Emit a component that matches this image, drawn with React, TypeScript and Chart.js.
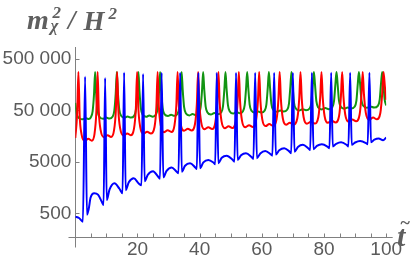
import { useEffect, useRef } from 'react';
import { Chart, registerables } from 'chart.js';

Chart.register(...registerables);

// ---- data ----
const blueT = [0, 1.2, 2.45, 3.15,
  3.75, 4.3, 4.9, 6.1, 7.3, 8.6, 9.1, 9.59,
  10.1, 11.0, 12.6, 14.2, 15.2, 15.7,
  16.2, 17.2, 18.8, 20.4, 21.3, 21.8,
  22.3, 23.3, 25.0, 26.6, 27.25, 27.77,
  28.3, 29.3, 31.0, 32.6, 33.2, 33.72,
  34.25, 35.3, 36.9, 38.6, 39.1, 39.6,
  40.1, 41.2, 42.8, 44.5, 45.0, 45.5,
  46.0, 47.1, 48.7, 50.6, 51.2, 51.7,
  52.2, 53.3, 54.9, 56.7, 57.3, 57.85,
  58.4, 59.5, 61.1, 62.9, 63.4, 63.96,
  64.5, 65.6, 67.2, 68.9, 69.45, 69.98,
  70.5, 71.6, 73.2, 75.0, 75.55, 76.1,
  76.6, 77.7, 79.3, 81.2, 81.75, 82.3,
  82.8, 83.9, 85.5, 87.3, 87.85, 88.4,
  88.9, 90.0, 91.6, 93.5, 94.05, 94.6,
  95.1, 96.2, 97.6, 99.0, 100];
const blueV = [430, 405, 344, 226000,
  470, 600, 1000, 1225, 1150, 820, 725, 213000,
  908, 1450, 1920, 1500, 1225, 273000,
  1410, 2000, 2400, 1900, 1750, 255000,
  2100, 2800, 3300, 2600, 2350, 270000,
  2500, 3300, 3900, 3200, 3000, 270000,
  3220, 4200, 4700, 3900, 3630, 270000,
  3750, 4900, 5450, 4800, 4490, 270000,
  4700, 6000, 6600, 5500, 5050, 270000,
  5450, 6700, 7350, 6200, 5690, 270000,
  5900, 7300, 8150, 7000, 6600, 270000,
  6950, 8400, 9200, 7900, 7350, 270000,
  7900, 9700, 10700, 9100, 8500, 270000,
  8800, 10200, 11000, 9800, 9200, 270000,
  10000, 11200, 12000, 10700, 10000, 270000,
  10700, 11900, 12700, 11600, 11000, 270000,
  12000, 13500, 14200, 13200, 14800];

const redT = [0, 0.6, 1.0, 1.4, 2.0, 3.0, 4.2, 5.3,
  6.17, 6.77, 7.17, 7.57, 8.17, 9.2, 10.4, 11.5,
  12.45, 13.05, 13.45, 13.85, 14.45, 15.5, 16.7, 17.8,
  18.88, 19.48, 19.88, 20.28, 20.88, 21.9, 23.1, 24.3,
  25.48, 26.08, 26.48, 26.88, 27.48, 28.5, 29.7, 30.9,
  31.9, 32.5, 32.9, 33.3, 33.9, 35.0, 36.2, 37.4,
  38.5, 39.1, 39.5, 39.9, 40.5, 41.5, 42.8, 44.0,
  45.04, 45.64, 46.04, 46.44, 47.04, 48.1, 49.3, 50.5,
  51.6, 52.2, 52.6, 53.0, 53.6, 54.6, 55.9, 57.1,
  58.14, 58.74, 59.14, 59.54, 60.14, 61.2, 62.4, 63.6,
  64.73, 65.33, 65.73, 66.13, 66.73, 67.8, 69.0, 70.2,
  71.43, 72.03, 72.43, 72.83, 73.43, 74.5, 75.8, 77.0,
  78.18, 78.78, 79.18, 79.58, 80.18, 81.2, 82.5, 83.7,
  84.84, 85.44, 85.84, 86.24, 86.84, 87.9, 89.1, 90.3,
  91.44, 92.04, 92.44, 92.84, 93.44, 94.5, 95.8, 97.0,
  98.13, 98.73, 99.13, 99.6, 100];
const redV = [14600, 44000, 280000, 40000, 17300, 12800, 14000, 12900,
  17300, 47000, 280000, 47000, 20400, 15100, 16500, 15200,
  20400, 51000, 280000, 51000, 22100, 16300, 17900, 16500,
  22100, 55000, 280000, 55000, 23800, 17600, 19200, 17800,
  23800, 59000, 280000, 59000, 25600, 18900, 20700, 19100,
  25600, 63000, 280000, 63000, 27300, 20200, 22000, 20400,
  27300, 67000, 280000, 67000, 29300, 21600, 23600, 21800,
  29300, 70000, 280000, 70000, 30600, 22600, 24700, 22800,
  30600, 74000, 280000, 74000, 32000, 23600, 25800, 23900,
  32000, 77000, 280000, 77000, 33500, 24800, 27100, 25000,
  33500, 82000, 280000, 82000, 35600, 26300, 28800, 26600,
  35600, 86000, 280000, 86000, 37300, 27600, 30100, 27800,
  37300, 90000, 280000, 90000, 39000, 28800, 31500, 29100,
  39000, 95000, 280000, 95000, 41200, 30400, 33300, 30700,
  41200, 100000, 280000, 104000, 45000, 33200, 36300, 33600,
  45000, 110000, 280000, 140000, 80000];

const greenT = [0, 0.5, 1.2, 2.4, 3.5, 4.3, 4.97, 5.57, 6.02, 6.37,
  6.72, 7.17, 7.77, 8.9, 9.9, 11.0, 11.95, 12.55, 13.0, 13.35,
  13.7, 14.15, 14.75, 15.8, 16.8, 17.9, 18.9, 19.5, 19.95, 20.3,
  20.65, 21.1, 21.7, 22.8, 23.8, 24.9, 25.88, 26.48, 26.93, 27.28,
  27.63, 28.08, 28.68, 29.8, 30.8, 31.9, 32.8, 33.4, 33.85, 34.2,
  34.55, 35.0, 35.6, 36.7, 37.7, 38.8, 39.72, 40.32, 40.77, 41.12,
  41.47, 41.92, 42.52, 43.6, 44.7, 45.8, 46.9, 47.5, 47.95, 48.3,
  48.65, 49.1, 49.7, 50.8, 51.8, 52.9, 53.88, 54.48, 54.93, 55.28,
  55.63, 56.08, 56.68, 57.8, 58.8, 59.9, 60.86, 61.46, 61.91, 62.26,
  62.61, 63.06, 63.66, 64.8, 65.9, 67.0, 68.13, 68.73, 69.18, 69.53,
  69.88, 70.33, 70.93, 72.0, 73.1, 74.2, 75.34, 75.94, 76.39, 76.74,
  77.09, 77.54, 78.14, 79.3, 80.4, 81.5, 82.61, 83.21, 83.66, 84.01,
  84.36, 84.81, 85.41, 86.5, 87.6, 88.7, 89.82, 90.42, 90.87, 91.22,
  91.57, 92.02, 92.62, 93.8, 94.9, 96.1, 97.31, 97.91, 98.36, 98.71,
  99.06, 99.51, 100];
const greenV = [70000, 42000, 35500, 33600, 35400, 34000, 36500, 48200, 103000, 280000,
  106000, 49600, 37500, 34300, 36500, 34700, 37500, 49600, 106000, 280000,
  111000, 51800, 39200, 35900, 38100, 36300, 39200, 51800, 111000, 280000,
  116000, 54200, 41000, 37500, 39900, 37900, 41000, 54200, 116000, 280000,
  120000, 56000, 42400, 38800, 41200, 39200, 42400, 56000, 120000, 280000,
  124000, 57700, 43700, 40000, 42400, 40400, 43700, 57700, 124000, 280000,
  129000, 60300, 45700, 41800, 44400, 42200, 45700, 60300, 129000, 280000,
  135000, 63100, 47800, 43700, 46500, 44200, 47800, 63100, 135000, 280000,
  139000, 65000, 49200, 45000, 47800, 45500, 49200, 65000, 139000, 280000,
  146000, 67900, 51400, 47000, 50000, 47500, 51400, 67900, 146000, 280000,
  155000, 72100, 54600, 50000, 53000, 50500, 54600, 72100, 155000, 280000,
  162000, 75600, 57200, 52400, 55600, 52900, 57200, 75600, 162000, 280000,
  167000, 77700, 58800, 53800, 57200, 54400, 58800, 77700, 167000, 280000,
  174000, 81200, 61500, 56300, 59700, 56800, 61500, 81200, 174000, 280000,
  174000, 81200, 62500];

const xTickValues = [20, 40, 60, 80, 100];
const xTickLabels = ['20', '40', '60', '80', '100'];
const xMinorTicks = [5, 10, 15, 20, 25, 30, 35, 40, 45, 50, 55, 60, 65, 70, 75, 80, 85, 90, 95, 100];
const yTickValues = [500, 5000, 50000, 500000];
const yTickLabels = ['500', '5000', '50 000', '500 000'];

const X_MIN = 0;
const X_MAX = 100;
const Y_MIN = 170.7;
const Y_MAX = 856000;

const AXIS_COLOR = '#808080';
const LABEL_COLOR = '#5a5a5a';
const TITLE_COLOR = '#5f5f5f';
const TICK_FONT = 'Liberation Sans';
const TITLE_FONT = "'Liberation Serif'";

const toPoints = (ts: number[], vs: number[]) => ts.map((t, i) => ({ x: t, y: vs[i] }));

const axesPlugin = {
  id: 'mmaAxes',
  beforeDatasetsDraw(chart: any) {
    const { ctx, chartArea, scales } = chart;
    const xs = scales.x;
    const ys = scales.y;
    const x0 = Math.round(xs.getPixelForValue(0)) + 0.5;
    const yb = Math.round(chartArea.bottom) + 0.5;
    const xEnd = xs.getPixelForValue(100);
    ctx.save();
    ctx.strokeStyle = AXIS_COLOR;
    ctx.lineWidth = 1;
    ctx.beginPath();
    ctx.moveTo(x0 - 7, yb);
    ctx.lineTo(xEnd + 6.5, yb);
    ctx.moveTo(x0, chartArea.top);
    ctx.lineTo(x0, yb + 10);
    for (const t of xMinorTicks) {
      const px = Math.round(xs.getPixelForValue(t)) + 0.5;
      ctx.moveTo(px, yb);
      ctx.lineTo(px, yb - 4);
    }
    for (const v of yTickValues) {
      const py = Math.round(ys.getPixelForValue(v)) + 0.5;
      ctx.moveTo(x0, py);
      ctx.lineTo(x0 + 4, py);
    }
    ctx.stroke();
    ctx.restore();
  },
  afterDraw(chart: any) {
    const { ctx } = chart;
    ctx.save();
    ctx.fillStyle = TITLE_COLOR;
    ctx.textBaseline = 'alphabetic';
    ctx.textAlign = 'left';
    ctx.font = `bold italic 28px ${TITLE_FONT}`;
    ctx.fillText('m', 27, 28.5);
    ctx.font = `bold italic 17px ${TITLE_FONT}`;
    ctx.fillText('2', 52.5, 18);
    ctx.fillText('χ', 50.5, 30.5);
    ctx.font = `bold italic 27px ${TITLE_FONT}`;
    ctx.fillText('/', 68, 29);
    ctx.fillText('H', 83.5, 30);
    ctx.font = `bold italic 17px ${TITLE_FONT}`;
    ctx.fillText('2', 108.5, 19);
    ctx.font = `bold italic 30px ${TITLE_FONT}`;
    ctx.fillText('t', 397, 246);
    ctx.font = `bold 18px ${TITLE_FONT}`;
    ctx.fillText('~', 400.5, 229);
    ctx.restore();
  },
};

export default function App() {
  const canvasRef = useRef<HTMLCanvasElement | null>(null);

  useEffect(() => {
    const canvas = canvasRef.current;
    if (!canvas) return;
    const common = {
      pointRadius: 0,
      borderWidth: 2,
      fill: false,
      cubicInterpolationMode: 'monotone' as const,
    };
    const chart = new Chart(canvas, {
      type: 'line',
      data: {
        datasets: [
          { ...common, label: 'blue', data: toPoints(blueT, blueV), borderColor: '#0000ff' },
          { ...common, label: 'red', data: toPoints(redT, redV), borderColor: '#ff0000' },
          { ...common, label: 'green', data: toPoints(greenT, greenV), borderColor: '#129412' },
        ],
      },
      options: {
        animation: false,
        responsive: true,
        maintainAspectRatio: false,
        events: [],
        layout: { padding: { top: 47, right: 27.8, left: 0, bottom: 0 } },
        plugins: { legend: { display: false }, tooltip: { enabled: false } },
        scales: {
          x: {
            type: 'linear',
            min: X_MIN,
            max: X_MAX,
            grid: { display: false, drawTicks: false },
            border: { display: false },
            ticks: {
              autoSkip: false,
              maxRotation: 0,
              padding: 1,
              color: LABEL_COLOR,
              font: { family: TICK_FONT, size: 19 },
              callback: (v: any) => {
                const i = xTickValues.indexOf(Number(v));
                return i >= 0 ? xTickLabels[i] : '';
              },
            },
            afterBuildTicks: (s: any) => {
              s.ticks = xTickValues.map((v) => ({ value: v }));
            },
            afterFit: (s: any) => {
              s.height = 263 - 237.3;
            },
          },
          y: {
            type: 'logarithmic',
            min: Y_MIN,
            max: Y_MAX,
            grid: { display: false, drawTicks: false },
            border: { display: false },
            ticks: {
              autoSkip: false,
              padding: 4,
              color: LABEL_COLOR,
              font: { family: TICK_FONT, size: 19 },
              callback: (v: any) => {
                const i = yTickValues.indexOf(Number(v));
                return i >= 0 ? yTickLabels[i] : '';
              },
            },
            afterBuildTicks: (s: any) => {
              s.ticks = yTickValues.map((v) => ({ value: v }));
            },
            afterFit: (s: any) => {
              s.width = 75.3;
            },
          },
        },
      },
      plugins: [axesPlugin],
    } as any);
    return () => chart.destroy();
  }, []);

  return (
    <div style={{ position: 'fixed', left: 0, top: 0, width: 414, height: 263, background: '#fff' }}>
      <canvas ref={canvasRef} />
    </div>
  );
}
